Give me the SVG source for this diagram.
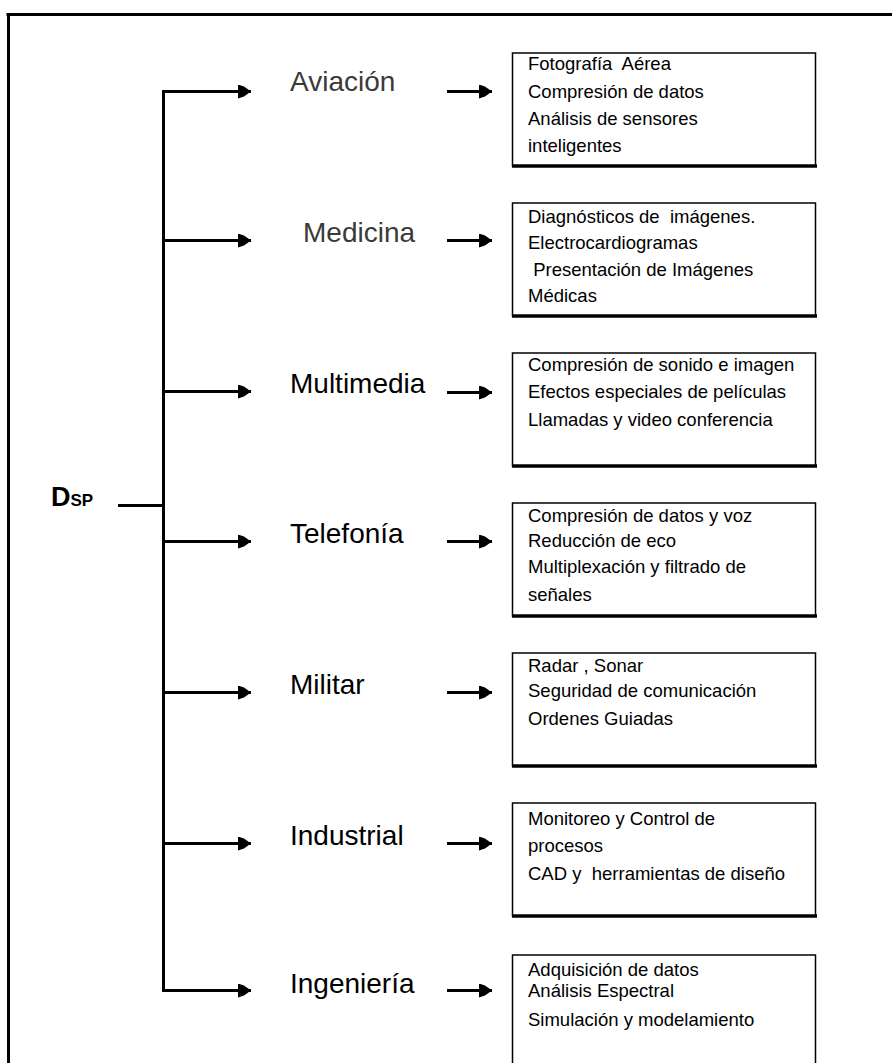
<svg xmlns="http://www.w3.org/2000/svg" width="892" height="1063" viewBox="0 0 892 1063">
  <style>
    .frame { stroke: #000; stroke-width: 3; fill: none; }
    .wire { stroke: #000; stroke-width: 3; fill: none; }
    .arrow { stroke: #000; stroke-width: 3; fill: none; marker-end: url(#head); }
    .box { fill: #fff; stroke: #000; stroke-width: 1.5; }
    .boxedge { stroke: #000; stroke-width: 3.5; }
    .cat { font-family: "Liberation Sans", Arial, sans-serif; font-size: 28px; fill: #000; }
    .cat.light { fill: #3a3a3a; }
    .item { font-family: "Liberation Sans", Arial, sans-serif; font-size: 18.5px; fill: #000; }
    .root { font-family: "Liberation Sans", Arial, sans-serif; font-weight: bold; fill: #000; }
  </style>
  <defs>
    <marker id="head" markerUnits="userSpaceOnUse" markerWidth="14" markerHeight="14" refX="13" refY="7" orient="auto">
      <path d="M0,0 L6,2 L13,7 L6,12 L0,14 Z" fill="#000"/>
    </marker>
  </defs>

  <rect width="892" height="1063" fill="#fff"/>

  <!-- outer frame (top and left edges) -->
  <g id="frame">
    <line class="frame" x1="6.5" y1="14.5" x2="892" y2="14.5"/>
    <line class="frame" x1="8.5" y1="13" x2="8.5" y2="1063"/>
  </g>

  <!-- connectors -->
  <g id="connectors">
    <line class="wire" x1="118" y1="505.5" x2="163" y2="505.5"/>
    <line class="wire" x1="163.5" y1="90" x2="163.5" y2="991.5"/>
    <line class="arrow" x1="162" y1="91.5" x2="251" y2="91.5"/>
    <line class="arrow" x1="162" y1="240.5" x2="251" y2="240.5"/>
    <line class="arrow" x1="162" y1="391.5" x2="251" y2="391.5"/>
    <line class="arrow" x1="162" y1="541.5" x2="251" y2="541.5"/>
    <line class="arrow" x1="162" y1="692.5" x2="251" y2="692.5"/>
    <line class="arrow" x1="162" y1="843.5" x2="251" y2="843.5"/>
    <line class="arrow" x1="162" y1="990.5" x2="251" y2="990.5"/>
    <line class="arrow" x1="447" y1="91.5" x2="492" y2="91.5"/>
    <line class="arrow" x1="447" y1="240.5" x2="492" y2="240.5"/>
    <line class="arrow" x1="447" y1="392.5" x2="492" y2="392.5"/>
    <line class="arrow" x1="447" y1="541.5" x2="492" y2="541.5"/>
    <line class="arrow" x1="447" y1="692.5" x2="492" y2="692.5"/>
    <line class="arrow" x1="447" y1="843.5" x2="492" y2="843.5"/>
    <line class="arrow" x1="447" y1="990.5" x2="492" y2="990.5"/>
  </g>

  <!-- root -->
  <g id="dsp">
    <text class="root" x="51" y="506"><tspan font-size="27">D</tspan><tspan font-size="17">SP</tspan></text>
  </g>

  <!-- categories -->
  <g id="aviacion">
    <text class="cat light" x="290" y="91">Aviación</text>
    <rect class="box" x="512.5" y="53" width="303" height="113"/>
    <line class="boxedge" x1="512" y1="166" x2="817" y2="166"/>
    <text class="item" x="528" y="70" xml:space="preserve">Fotografía  Aérea</text>
    <text class="item" x="528" y="98">Compresión de datos</text>
    <text class="item" x="528" y="125">Análisis de sensores</text>
    <text class="item" x="528" y="152">inteligentes</text>
  </g>

  <g id="medicina">
    <text class="cat light" x="303" y="242">Medicina</text>
    <rect class="box" x="512.5" y="203" width="303" height="113"/>
    <line class="boxedge" x1="512" y1="316" x2="817" y2="316"/>
    <text class="item" x="528" y="223" xml:space="preserve">Diagnósticos de  imágenes.</text>
    <text class="item" x="528" y="249">Electrocardiogramas</text>
    <text class="item" x="528" y="276" xml:space="preserve"> Presentación de Imágenes</text>
    <text class="item" x="528" y="302">Médicas</text>
  </g>

  <g id="multimedia">
    <text class="cat" x="290" y="393">Multimedia</text>
    <rect class="box" x="512.5" y="353" width="303" height="113"/>
    <line class="boxedge" x1="512" y1="466" x2="817" y2="466"/>
    <text class="item" x="528" y="371">Compresión de sonido e imagen</text>
    <text class="item" x="528" y="398">Efectos especiales de películas</text>
    <text class="item" x="528" y="426">Llamadas y video conferencia</text>
  </g>

  <g id="telefonia">
    <text class="cat" x="290" y="543">Telefonía</text>
    <rect class="box" x="512.5" y="503" width="303" height="113"/>
    <line class="boxedge" x1="512" y1="616" x2="817" y2="616"/>
    <text class="item" x="528" y="522">Compresión de datos y voz</text>
    <text class="item" x="528" y="547">Reducción de eco</text>
    <text class="item" x="528" y="573">Multiplexación y filtrado de</text>
    <text class="item" x="528" y="601">señales</text>
  </g>

  <g id="militar">
    <text class="cat" x="290" y="694">Militar</text>
    <rect class="box" x="512.5" y="653" width="303" height="113"/>
    <line class="boxedge" x1="512" y1="766" x2="817" y2="766"/>
    <text class="item" x="528" y="672">Radar , Sonar</text>
    <text class="item" x="528" y="697">Seguridad de comunicación</text>
    <text class="item" x="528" y="725">Ordenes Guiadas</text>
  </g>

  <g id="industrial">
    <text class="cat" x="290" y="845">Industrial</text>
    <rect class="box" x="512.5" y="803" width="303" height="113"/>
    <line class="boxedge" x1="512" y1="916" x2="817" y2="916"/>
    <text class="item" x="528" y="825">Monitoreo y Control de</text>
    <text class="item" x="528" y="852">procesos</text>
    <text class="item" x="528" y="880" xml:space="preserve">CAD y  herramientas de diseño</text>
  </g>

  <g id="ingenieria">
    <text class="cat" x="290" y="993">Ingeniería</text>
    <rect class="box" x="512.5" y="955" width="303" height="130"/>
    <text class="item" x="528" y="976">Adquisición de datos</text>
    <text class="item" x="528" y="997">Análisis Espectral</text>
    <text class="item" x="528" y="1026">Simulación y modelamiento</text>
  </g>
</svg>
